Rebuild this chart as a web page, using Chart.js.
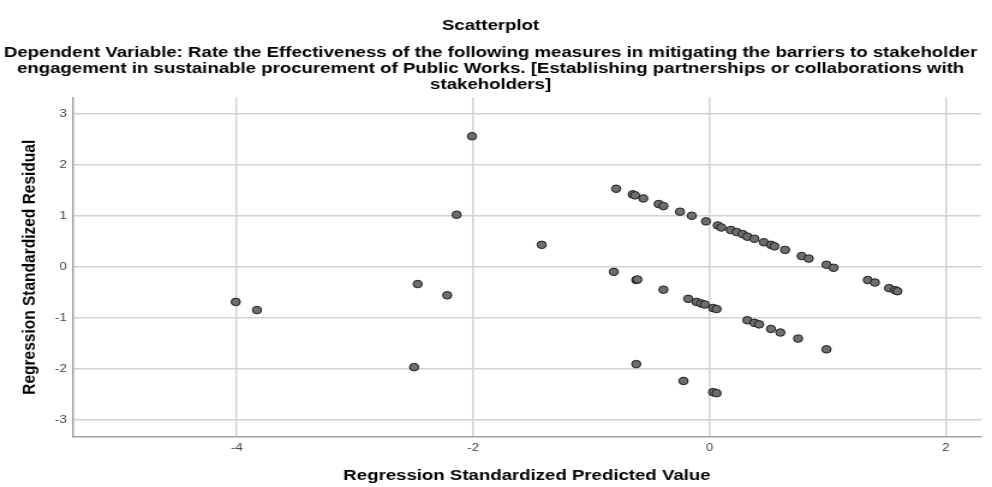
<!DOCTYPE html>
<html>
<head>
<meta charset="utf-8">
<script src="https://cdn.jsdelivr.net/npm/chart.js@4/dist/chart.umd.min.js"></script>
<style>
  html, body { margin: 0; padding: 0; background: #fff; overflow: hidden; }
  #wrap { width: 992px; height: 487px; }
  /* 원본 그림이 가로로 늘어나 있어서 캔버스도 가로로만 늘림 */
  #chart { display: block; transform-origin: 0 0; transform: scaleX(1.201); }
</style>
</head>
<body>
<div id="wrap"><canvas id="chart" width="826" height="487" style="width:826px;height:487px"></canvas></div>
<script>
// 축 눈금
const xTicks = [-4, -2, 0, 2];
const yTicks = [-3, -2, -1, 0, 1, 2, 3];

// 예측값 (x) / 잔차 (y)
const predicted = [
  -2.01, -2.14, -2.47, -2.22, -4.01, -3.83, -2.50, -1.42,
  -0.79, -0.65, -0.63, -0.56, -0.43, -0.39, -0.25, -0.15, -0.03,
  0.07, 0.10, 0.18, 0.23, 0.28, 0.32, 0.38, 0.46, 0.52, 0.55, 0.64,
  0.78, 0.84, 0.99, 1.05, 1.34, 1.40, 1.52, 1.57, 1.59,
  -0.81, -0.62, -0.61, -0.39, -0.18, -0.11, -0.07, -0.04, 0.03, 0.06,
  0.32, 0.38, 0.42, 0.52, 0.60, 0.75, 0.99,
  -0.62, -0.22, 0.03, 0.06
];
const residual = [
  2.56, 1.02, -0.34, -0.56, -0.69, -0.85, -1.97, 0.43,
  1.53, 1.42, 1.40, 1.34, 1.23, 1.19, 1.08, 1.00, 0.89,
  0.81, 0.77, 0.72, 0.68, 0.64, 0.59, 0.55, 0.48, 0.43, 0.40, 0.33,
  0.21, 0.16, 0.04, -0.02, -0.26, -0.31, -0.42, -0.46, -0.48,
  -0.10, -0.26, -0.25, -0.45, -0.63, -0.69, -0.72, -0.74, -0.81, -0.83,
  -1.05, -1.10, -1.13, -1.22, -1.29, -1.41, -1.62,
  -1.91, -2.24, -2.46, -2.48
];

const points = predicted.map((x, i) => ({ x: x, y: residual[i] }));

const font = "'Liberation Sans', Arial, sans-serif";

new Chart(document.getElementById("chart").getContext("2d"), {
  type: "scatter",
  data: {
    datasets: [{
      data: points,
      backgroundColor: "#6e6e6e",
      borderColor: "#1e1e1e",
      borderWidth: 1,
      pointRadius: 3.8,
      pointHoverRadius: 3.8
    }]
  },
  options: {
    responsive: false,
    animation: false,
    layout: { padding: { left: 0, right: 9, top: 0, bottom: 0 } },
    plugins: {
      legend: { display: false },
      tooltip: { enabled: false },
      title: {
        display: true,
        text: "Scatterplot",
        color: "#000",
        font: { family: font, size: 15.5, weight: "bold", lineHeight: 1.2 },
        padding: { top: 16, bottom: 9 }
      },
      subtitle: {
        display: true,
        text: [
          "Dependent Variable: Rate the Effectiveness of the following measures in mitigating the barriers to stakeholder",
          "engagement in sustainable procurement of Public Works. [Establishing partnerships or collaborations with",
          "stakeholders]"
        ],
        color: "#000",
        font: { family: font, size: 15.5, weight: "bold", lineHeight: 1.03 },
        padding: { top: 1, bottom: 5 }
      }
    },
    scales: {
      x: {
        type: "linear",
        min: -5.39,
        max: 2.3,
        afterBuildTicks: s => { s.ticks = xTicks.map(v => ({ value: v })); },
        afterFit: s => { s.height = 50; },
        grid: { color: "#d2d2d2", lineWidth: 1.5, drawTicks: false },
        border: { color: "#a0a0a0", width: 1.5 },
        ticks: { color: "#444", font: { family: font, size: 11 }, padding: 4 },
        title: {
          display: true,
          text: "Regression Standardized Predicted Value",
          color: "#000",
          font: { family: font, size: 15.5, weight: "bold", lineHeight: 1.2 },
          padding: { top: 4, bottom: 2 }
        }
      },
      y: {
        type: "linear",
        min: -3.34,
        max: 3.32,
        afterBuildTicks: s => { s.ticks = yTicks.map(v => ({ value: v })); },
        afterFit: s => { s.width = 60.5; },
        grid: { color: "#d2d2d2", lineWidth: 1.5, drawTicks: false },
        border: { color: "#a0a0a0", width: 1.5 },
        ticks: { color: "#444", font: { family: font, size: 11 }, padding: 5 },
        title: {
          display: true,
          text: "Regression Standardized Residual",
          color: "#000",
          font: { family: font, size: 15.5, weight: "bold", lineHeight: 1.2 },
          padding: { top: 15.7, bottom: 0 }
        }
      }
    }
  }
});
</script>
</body>
</html>
